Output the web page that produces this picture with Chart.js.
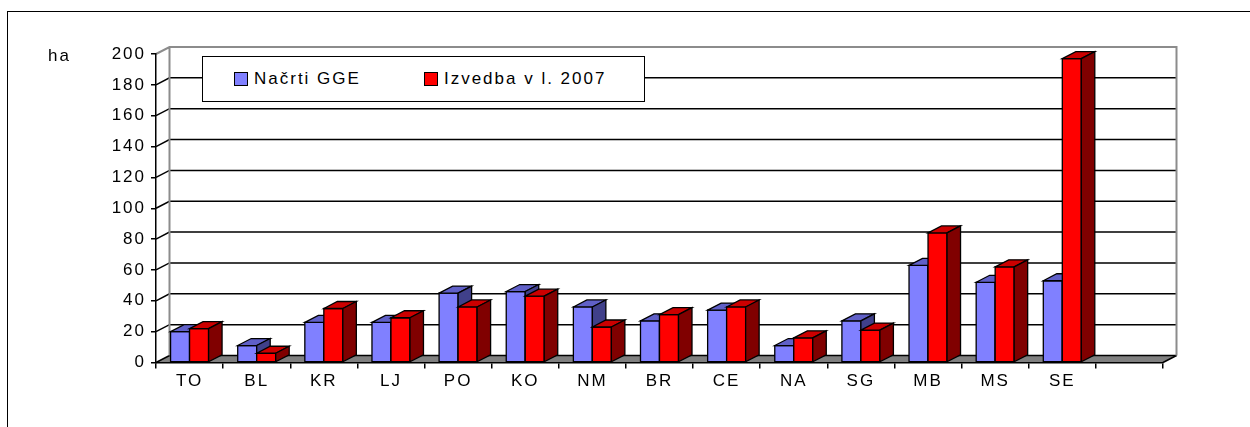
<!DOCTYPE html>
<html>
<head>
<meta charset="utf-8">
<script src="https://cdn.jsdelivr.net/npm/chart.js@4/dist/chart.umd.min.js"></script>
<style>
  body { margin: 0; background: #fff; overflow: hidden; }
  #wrap { position: relative; width: 1250px; height: 427px; overflow: hidden; font-family: "Liberation Sans", Arial, sans-serif; }
  #frame { position: absolute; left: 7px; top: 11px; width: 1400px; height: 600px; border-left: 1.5px solid #000; border-top: 1.5px solid #000; }
  #chart { position: absolute; left: 0; top: 0; }
  #unit { position: absolute; left: 48px; top: 47px; font-size: 17px; line-height: 17px; letter-spacing: 2px; }
  #legend { position: absolute; left: 202px; top: 56px; width: 441px; height: 44px; background: #fff; border: 1.5px solid #000;
            display: flex; align-items: center; font-size: 17px; letter-spacing: 2px; }
  .item { display: flex; align-items: center; }
  .swatch { width: 12px; height: 12px; border: 1px solid #000; margin-right: 6px; }
</style>
</head>
<body>
<div id="wrap">
  <div id="frame"></div>
  <canvas id="chart" width="1250" height="427"></canvas>
  <div id="unit">ha</div>
  <div id="legend"></div>
</div>
<script>
'use strict';

// data
let categories = ['TO', 'BL', 'KR', 'LJ', 'PO', 'KO', 'NM', 'BR', 'CE', 'NA', 'SG', 'MB', 'MS', 'SE', ''];
let plannedValues = [20, 11, 26, 26, 45, 46, 36, 27, 34, 11, 27, 63, 52, 53, null];
let doneValues = [22, 6, 35, 29, 36, 43, 23, 31, 36, 16, 21, 84, 62, 197, null];
let yTicks = [0, 20, 40, 60, 80, 100, 120, 140, 160, 180, 200];
let seriesNames = ['Načrti GGE', 'Izvedba v l. 2007'];

// face colours: front, top, side
let faceColors = [
  { front: '#8080ff', top: '#6060c8', side: '#40408a' },
  { front: '#ff0000', top: '#cc0000', side: '#800000' }
];

// depth of the 3d box
const dx = 13.5;
const dy = -7;
const spacing = '2px';

function poly(ctx, pts, fill) {
  ctx.beginPath();
  ctx.moveTo(pts[0][0], pts[0][1]);
  for (let i = 1; i < pts.length; i++) ctx.lineTo(pts[i][0], pts[i][1]);
  ctx.closePath();
  ctx.fillStyle = fill;
  ctx.fill();
  ctx.stroke();
}

const box3d = {
  id: 'box3d',
  beforeLayout(chart) {
    chart.ctx.letterSpacing = spacing;
  },
  beforeDraw(chart) {
    let ctx = chart.ctx;
    ctx.letterSpacing = spacing;
    let area = chart.chartArea;
    let yScale = chart.scales.y;
    ctx.save();

    // floor
    ctx.fillStyle = '#808080';
    ctx.beginPath();
    ctx.moveTo(area.left, area.bottom);
    ctx.lineTo(area.right, area.bottom);
    ctx.lineTo(area.right + dx, area.bottom + dy);
    ctx.lineTo(area.left + dx, area.bottom + dy);
    ctx.closePath();
    ctx.fill();

    // gridlines on the back wall, with the diagonals on the side wall
    ctx.strokeStyle = '#000';
    ctx.lineWidth = 1.5;
    yScale.ticks.forEach(t => {
      if (t.value === yScale.max) return;
      let py = yScale.getPixelForValue(t.value);
      ctx.beginPath();
      ctx.moveTo(area.left, py);
      ctx.lineTo(area.left + dx, py + dy);
      ctx.lineTo(area.right + dx, py + dy);
      ctx.stroke();
    });

    // right edge of floor
    ctx.beginPath();
    ctx.moveTo(area.right, area.bottom);
    ctx.lineTo(area.right + dx, area.bottom + dy);
    ctx.stroke();

    // wall border, gray
    ctx.strokeStyle = '#8c8c8c';
    ctx.lineWidth = 2;
    ctx.beginPath();
    ctx.moveTo(area.left, area.top);
    ctx.lineTo(area.left + dx, area.top + dy);
    ctx.lineTo(area.right + dx, area.top + dy);
    ctx.lineTo(area.right + dx, area.bottom + dy);
    ctx.moveTo(area.left + dx, area.top + dy);
    ctx.lineTo(area.left + dx, area.bottom + dy);
    ctx.stroke();
    ctx.restore();
  },
  afterDatasetsDraw(chart) {
    let ctx = chart.ctx;
    ctx.save();
    ctx.strokeStyle = '#000';
    ctx.lineWidth = 1.3;
    ctx.lineJoin = 'miter';
    for (let i = 0; i < categories.length; i++) {
      chart.data.datasets.forEach((ds, d) => {
        let bar = chart.getDatasetMeta(d).data[i];
        if (!bar || ds.data[i] == null) return;
        let p = bar.getProps(['x', 'y', 'base', 'width'], true);
        let l = p.x - p.width / 2;
        let r = p.x + p.width / 2;
        let c = faceColors[d];
        poly(ctx, [[l, p.base], [l, p.y], [r, p.y], [r, p.base]], c.front);
        poly(ctx, [[l, p.y], [l + dx, p.y + dy], [r + dx, p.y + dy], [r, p.y]], c.top);
        poly(ctx, [[r, p.y], [r + dx, p.y + dy], [r + dx, p.base + dy], [r, p.base]], c.side);
      });
    }
    ctx.restore();
  }
};

let chartData = {
  labels: categories,
  datasets: [
    { label: seriesNames[0], data: plannedValues, backgroundColor: 'rgba(0,0,0,0)', borderWidth: 0 },
    { label: seriesNames[1], data: doneValues, backgroundColor: 'rgba(0,0,0,0)', borderWidth: 0 }
  ]
};

let tickFont = { family: '"Liberation Sans", Arial, sans-serif', size: 17 };

let chartConfig = {
  type: 'bar',
  data: chartData,
  plugins: [box3d],
  options: {
    responsive: false,
    animation: false,
    devicePixelRatio: 1,
    categoryPercentage: 0.566,
    barPercentage: 1,
    layout: { padding: { left: 0, top: 54, right: 87, bottom: 34.5 } },
    plugins: { legend: { display: false }, tooltip: { enabled: false } },
    scales: {
      x: {
        grid: { drawOnChartArea: false, offset: true, tickLength: 6, color: '#000', lineWidth: 1.5 },
        border: { color: '#000', width: 1.5 },
        ticks: { font: tickFont, color: '#000', padding: 3, maxRotation: 0, autoSkip: false },
        afterFit(scale) { scale.height = 30; }
      },
      y: {
        min: 0,
        max: 200,
        afterBuildTicks(scale) { scale.ticks = yTicks.map(v => ({ value: v })); },
        grid: { drawOnChartArea: false, tickLength: 5, color: '#000', lineWidth: 1.5 },
        border: { color: '#000', width: 1.5 },
        ticks: { font: tickFont, color: '#000', padding: 5 },
        afterFit(scale) { scale.width = 156; }
      }
    }
  }
};

let chart = new Chart(document.getElementById('chart'), chartConfig);

// legend box
let legendElem = document.getElementById('legend');
seriesNames.forEach((name, d) => {
  let item = document.createElement('div');
  item.className = 'item';
  item.style.marginLeft = d === 0 ? '31px' : '63px';
  let swatch = document.createElement('span');
  swatch.className = 'swatch';
  swatch.style.background = faceColors[d].front;
  let text = document.createElement('span');
  text.textContent = name;
  item.appendChild(swatch);
  item.appendChild(text);
  legendElem.appendChild(item);
});
</script>
</body>
</html>
